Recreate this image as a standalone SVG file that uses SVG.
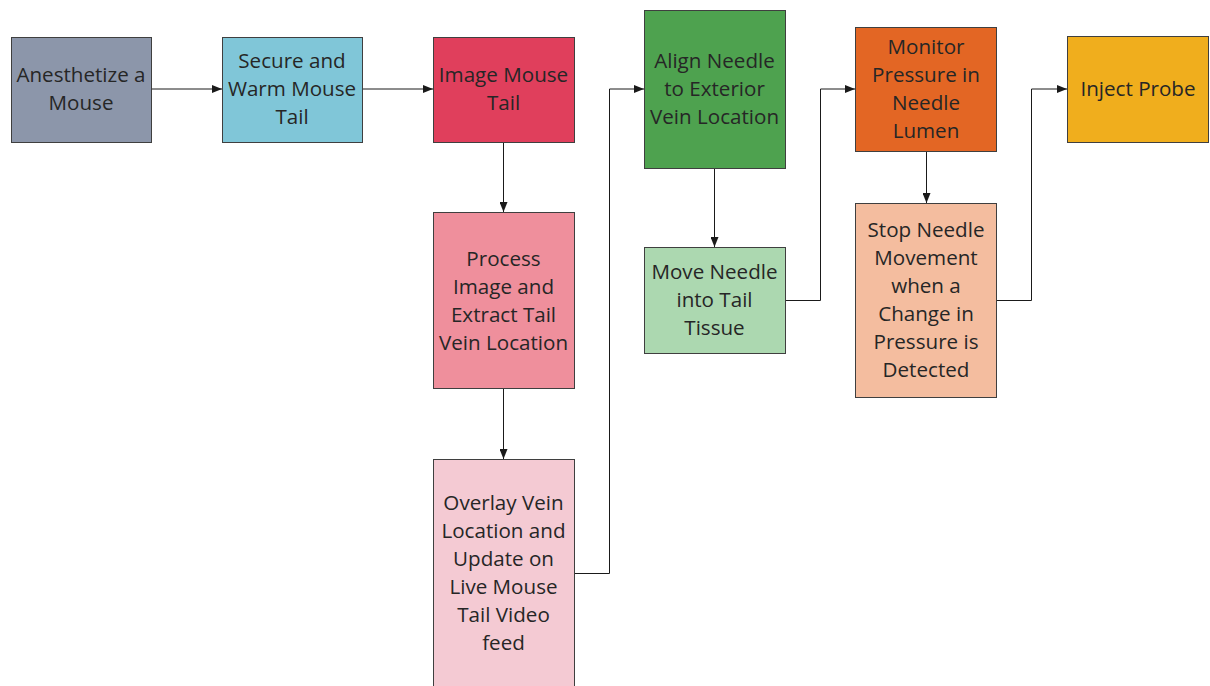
<svg xmlns="http://www.w3.org/2000/svg" width="1210" height="686" viewBox="0 0 1210 686">
<style>
rect{stroke:#3f3f3f;stroke-width:1}
text{font-family:"Open Sans","Noto Sans",sans-serif;font-size:20.6px;fill:#262626;text-anchor:middle}
.c path{fill:none;stroke:#1a1a1a;stroke-width:1}
</style>
<defs>
<marker id="a" markerWidth="10" markerHeight="8" refX="10" refY="4" orient="auto" markerUnits="userSpaceOnUse">
<path d="M0,0 L10,4 L0,8 Z" fill="#1a1a1a"/>
</marker>
</defs>
<rect width="1210" height="686" fill="#fff" style="stroke:none"/>
<g class="c">
<path d="M151,89 H222" marker-end="url(#a)"/>
<path d="M362,89 H433" marker-end="url(#a)"/>
<path d="M503.5,142 V212" marker-end="url(#a)"/>
<path d="M503.5,388 V459" marker-end="url(#a)"/>
<path d="M574,573.5 H609.5 V89 H644" marker-end="url(#a)"/>
<path d="M714.5,168 V247" marker-end="url(#a)"/>
<path d="M785,300.5 H820.5 V89 H855" marker-end="url(#a)"/>
<path d="M926.5,151 V203" marker-end="url(#a)"/>
<path d="M996,300.5 H1031.5 V89 H1067" marker-end="url(#a)"/>
</g>
<g id="n1"><rect x="11.5" y="37.5" width="140" height="105" fill="#8c96aa"/>
<text x="81" y="82">Anesthetize a</text><text x="81" y="110">Mouse</text></g>
<g id="n2"><rect x="222.5" y="37.5" width="140" height="105" fill="#80c6d8"/>
<text x="292" y="68">Secure and</text><text x="292" y="96">Warm Mouse</text><text x="292" y="124">Tail</text></g>
<g id="n3"><rect x="433.5" y="37.5" width="141" height="105" fill="#e03f5c"/>
<text x="503.5" y="82">Image Mouse</text><text x="503.5" y="110">Tail</text></g>
<g id="n4"><rect x="433.5" y="212.5" width="141" height="176" fill="#ef8f9c"/>
<text x="503.5" y="266">Process</text><text x="503.5" y="294">Image and</text><text x="503.5" y="322">Extract Tail</text><text x="503.5" y="350">Vein Location</text></g>
<g id="n5"><rect x="433.5" y="459.5" width="141" height="240" fill="#f4cad3"/>
<text x="503.5" y="510">Overlay Vein</text><text x="503.5" y="538">Location and</text><text x="503.5" y="566">Update on</text><text x="503.5" y="594">Live Mouse</text><text x="503.5" y="622">Tail Video</text><text x="503.5" y="650">feed</text></g>
<g id="n6"><rect x="644.5" y="10.5" width="141" height="158" fill="#4ea24f"/>
<text x="714.5" y="68">Align Needle</text><text x="714.5" y="96">to Exterior</text><text x="714.5" y="124">Vein Location</text></g>
<g id="n7"><rect x="644.5" y="247.5" width="141" height="106" fill="#acd8b0"/>
<text x="714.5" y="279">Move Needle</text><text x="714.5" y="307">into Tail</text><text x="714.5" y="335">Tissue</text></g>
<g id="n8"><rect x="855.5" y="27.5" width="141" height="124" fill="#e36624"/>
<text x="926" y="54">Monitor</text><text x="926" y="82">Pressure in</text><text x="926" y="110">Needle</text><text x="926" y="138">Lumen</text></g>
<g id="n9"><rect x="855.5" y="203.5" width="141" height="194" fill="#f4bd9f"/>
<text x="926" y="237">Stop Needle</text><text x="926" y="265">Movement</text><text x="926" y="293">when a</text><text x="926" y="321">Change in</text><text x="926" y="349">Pressure is</text><text x="926" y="377">Detected</text></g>
<g id="n10"><rect x="1067.5" y="36.5" width="141" height="106" fill="#f0ae1d"/>
<text x="1138" y="96">Inject Probe</text></g>
</svg>
